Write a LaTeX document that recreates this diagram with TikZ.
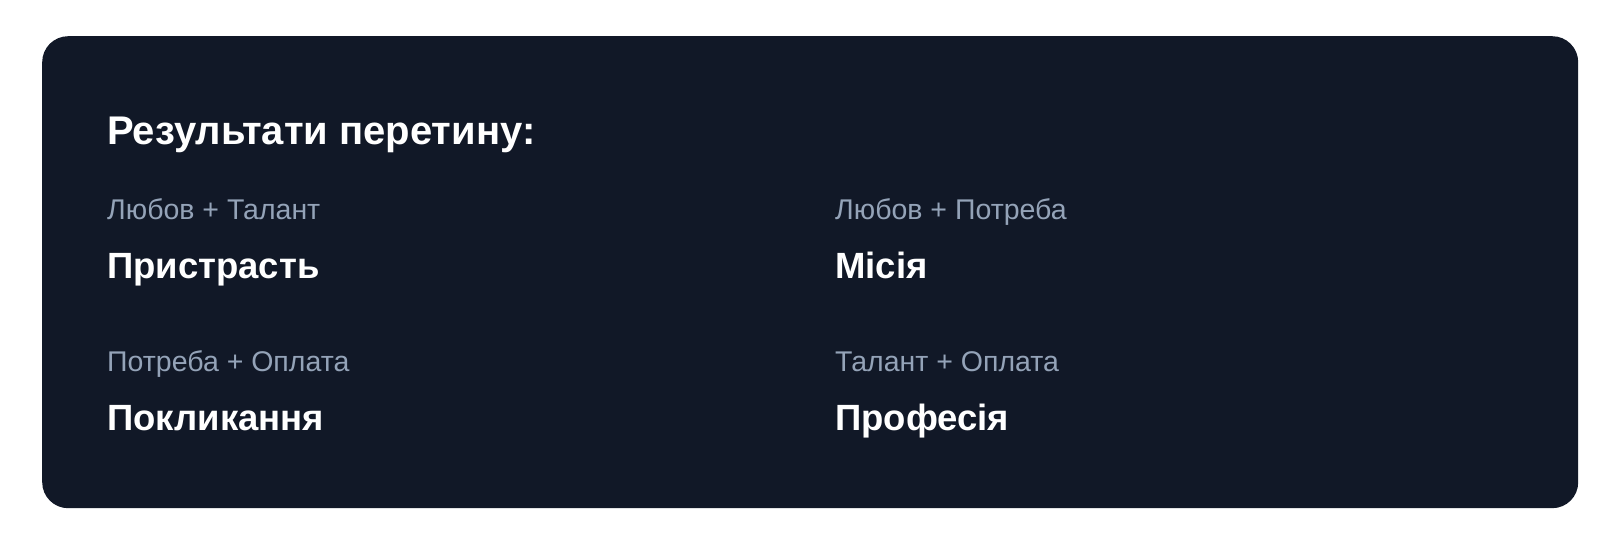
\documentclass[tikz,border=0pt]{standalone}
\usepackage{fontspec}
\setmainfont{Liberation Sans}
\definecolor{panelbg}{HTML}{111827}
\definecolor{subgray}{HTML}{94A3B8}
\begin{document}
\begin{tikzpicture}[x=1pt,y=-1pt,
  titletext/.style={anchor=base west,inner sep=0pt,text=white,font=\fontsize{40}{46}\selectfont\bfseries},
  subtext/.style={anchor=base west,inner sep=0pt,text=subgray,font=\fontsize{28.5}{34}\selectfont},
  resulttext/.style={anchor=base west,inner sep=0pt,text=white,font=\fontsize{36.5}{43}\selectfont\bfseries}]
\useasboundingbox[fill=white] (0,0) rectangle (1614,540);
\node[fill=panelbg,rounded corners=26pt,minimum width=1536pt,minimum height=472pt,anchor=north west,inner sep=0pt] (panel) at (42,36) {};
\node[titletext] (title) at (107,145) {Результати перетину:};
\node[subtext] (s1) at (107,220) {Любов + Талант};
\node[resulttext] (r1) at (107,278) {Пристрасть};
\node[subtext] (s2) at (835,220) {Любов + Потреба};
\node[resulttext] (r2) at (835,278) {Місія};
\node[subtext] (s3) at (107,371) {Потреба + Оплата};
\node[resulttext] (r3) at (107,430) {Покликання};
\node[subtext] (s4) at (835,371) {Талант + Оплата};
\node[resulttext] (r4) at (835,430) {Професія};
\end{tikzpicture}
\end{document}
